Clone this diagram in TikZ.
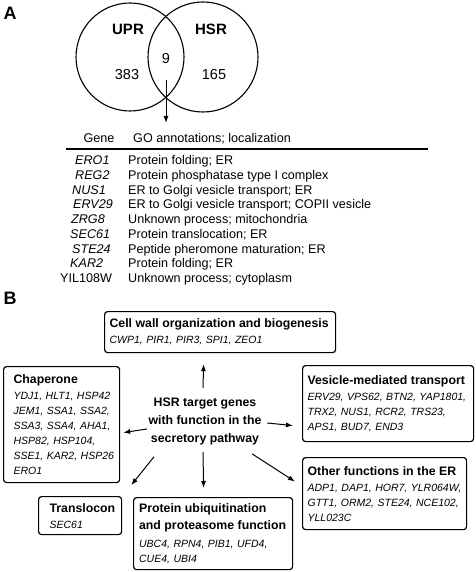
\documentclass[tikz,border=0pt]{standalone}
\usepackage{fontspec}
\setmainfont{Liberation Sans}
\usetikzlibrary{arrows.meta,calc}
\newcommand\tlfont{\fontsize{12.3}{15}\selectfont\bfseries\upshape}
\newcommand\gnfont{\fontsize{10.5}{15}\selectfont\itshape}
\begin{document}
\begin{tikzpicture}[x=1pt,y=-1pt,
  box/.style={draw, line width=1.2pt, rounded corners=3pt, align=left, anchor=north west, inner ysep=0pt, font=\gnfont},
  arr/.style={-{Latex[length=7pt,width=5pt]}, line width=1pt},
  venn/.style={draw, circle, line width=1.1pt, inner sep=0pt},
  vlab/.style={font=\fontsize{14.5}{16}\selectfont, inner sep=0pt},
  vtitle/.style={font=\fontsize{15}{16}\selectfont\bfseries, inner sep=0pt},
  panel/.style={font=\fontsize{18}{20}\selectfont\bfseries, inner sep=0pt},
  tab/.style={font=\fontsize{12.6}{14.75}\selectfont, anchor=base west, inner sep=0pt},
  gene/.style={tab, font=\fontsize{12.6}{14.75}\selectfont\itshape},
]
\useasboundingbox (0,0) rectangle (475,572);
% ---------- Panel A ----------
\node[panel] (pA) at (10,13.5) {A};
\node[venn, minimum size=108pt] (cupr) at (130,57) {};
\node[venn, minimum size=110pt] (chsr) at (203,57) {};
\node[vtitle] (lupr) at (128,29) {UPR};
\node[vtitle] (lhsr) at (211,29) {HSR};
\node[vlab] (nine) at (166,59) {9};
\node[vlab] (n383) at (127,75) {383};
\node[vlab] (n165) at (214,75) {165};
\coordinate (tabtop) at (166,123);
\draw[arr] ($(nine.south)+(0,16)$) -- (tabtop);
% table
\node[tab, anchor=base] (hgene) at (99,142.5) {Gene};
\node[tab] (hgo) at (133,142.5) {GO annotations; localization};
\draw[line width=1.2pt] (66,149) -- (428,149);
\foreach \g/\gx/\d [count=\i from 0] in {
  ERO1/75/{Protein folding; ER},
  REG2/75/{Protein phosphatase type I complex},
  NUS1/72/{ER to Golgi vesicle transport; ER},
  ERV29/73/{ER to Golgi vesicle transport; COPII vesicle},
  ZRG8/71/{Unknown process; mitochondria},
  SEC61/70/{Protein translocation; ER},
  STE24/72/{Peptide pheromone maturation; ER},
  KAR2/70/{Protein folding; ER}}{
  \node[gene] (g\i) at (\gx,164.5+14.75*\i) {\g};
  \node[tab] (d\i) at (128,164.5+14.75*\i) {\d};
}
\node[tab] (g8) at (60,282.5) {YIL108W};
\node[tab] (d8) at (128,282.5) {Unknown process; cytoplasm};
% ---------- Panel B ----------
\node[panel] (pB) at (10,298) {B};
\node[box, text width=221pt, inner xsep=5pt, minimum height=41pt] (cell) at (104,311)
  {{\tlfont Cell wall organization and biogenesis}\\[1pt]
   CWP1, PIR1, PIR3, SPI1, ZEO1};
\node[box, text width=110pt, inner xsep=3pt, minimum height=116pt] (chap) at (3,366)
  {\leftskip=7pt
   {\tlfont Chaperone}\\[1pt]
   YDJ1, HLT1, HSP42\\
   JEM1, SSA1, SSA2,\\
   SSA3, SSA4, AHA1,\\
   HSP82, HSP104,\\
   SSE1, KAR2, HSP26\\
   ERO1\par};
\node[box, text width=161pt, inner xsep=5pt, minimum height=76pt] (ves) at (302,365)
  {{\tlfont Vesicle-mediated transport}\\[1pt]
   ERV29, VPS62, BTN2, YAP1801,\\
   TRX2, NUS1, RCR2, TRS23,\\
   APS1, BUD7, END3};
\node[box, text width=154pt, inner xsep=5pt, minimum height=72pt] (other) at (302,457)
  {{\tlfont Other functions in the ER}\\[1pt]
   ADP1, DAP1, HOR7, YLR064W,\\
   GTT1, ORM2, STE24, NCE102,\\
   YLL023C};
\node[box, text width=75pt, inner xsep=4pt, minimum height=38pt] (trans) at (38,496)
  {\leftskip=7pt
   {\tlfont Translocon}\\[1pt]
   SEC61\par};
\node[box, text width=148pt, inner xsep=5.5pt, minimum height=72pt] (prot) at (133,497)
  {{\tlfont Protein ubiquitination}\\[2pt]
   {\tlfont and proteasome function}\\[3pt]
   UBC4, RPN4, PIB1, UFD4,\\
   CUE4, UBI4};
\node[font=\fontsize{12.3}{18}\selectfont\bfseries, align=center, inner sep=0pt] (hsr) at (205,421)
  {HSR target genes\\with function in the\\secretory pathway};
% arrows
\draw[arr] ($(hsr.north)+(-2,-9)$) -- ($(cell.south)+(-16.5,11)$);
\draw[arr] ($(hsr.west)+(-1.6,8)$) -- ($(chap.east)+(3,8)$);
\draw[arr] ($(hsr.east)+(5.6,2)$) -- ($(ves.west)+(-9,22)$);
\draw[arr] ($(hsr.south)+(-51,12)$) -- ($(chap.south east)+(11,2)$);
\draw[arr] ($(hsr.south)+(-2,7)$) -- ($(prot.north)+(-9.5,-9)$);
\draw[arr] ($(hsr.south)+(47,9)$) -- ($(other.west)+(-7,-12)$);
\end{tikzpicture}
\end{document}
